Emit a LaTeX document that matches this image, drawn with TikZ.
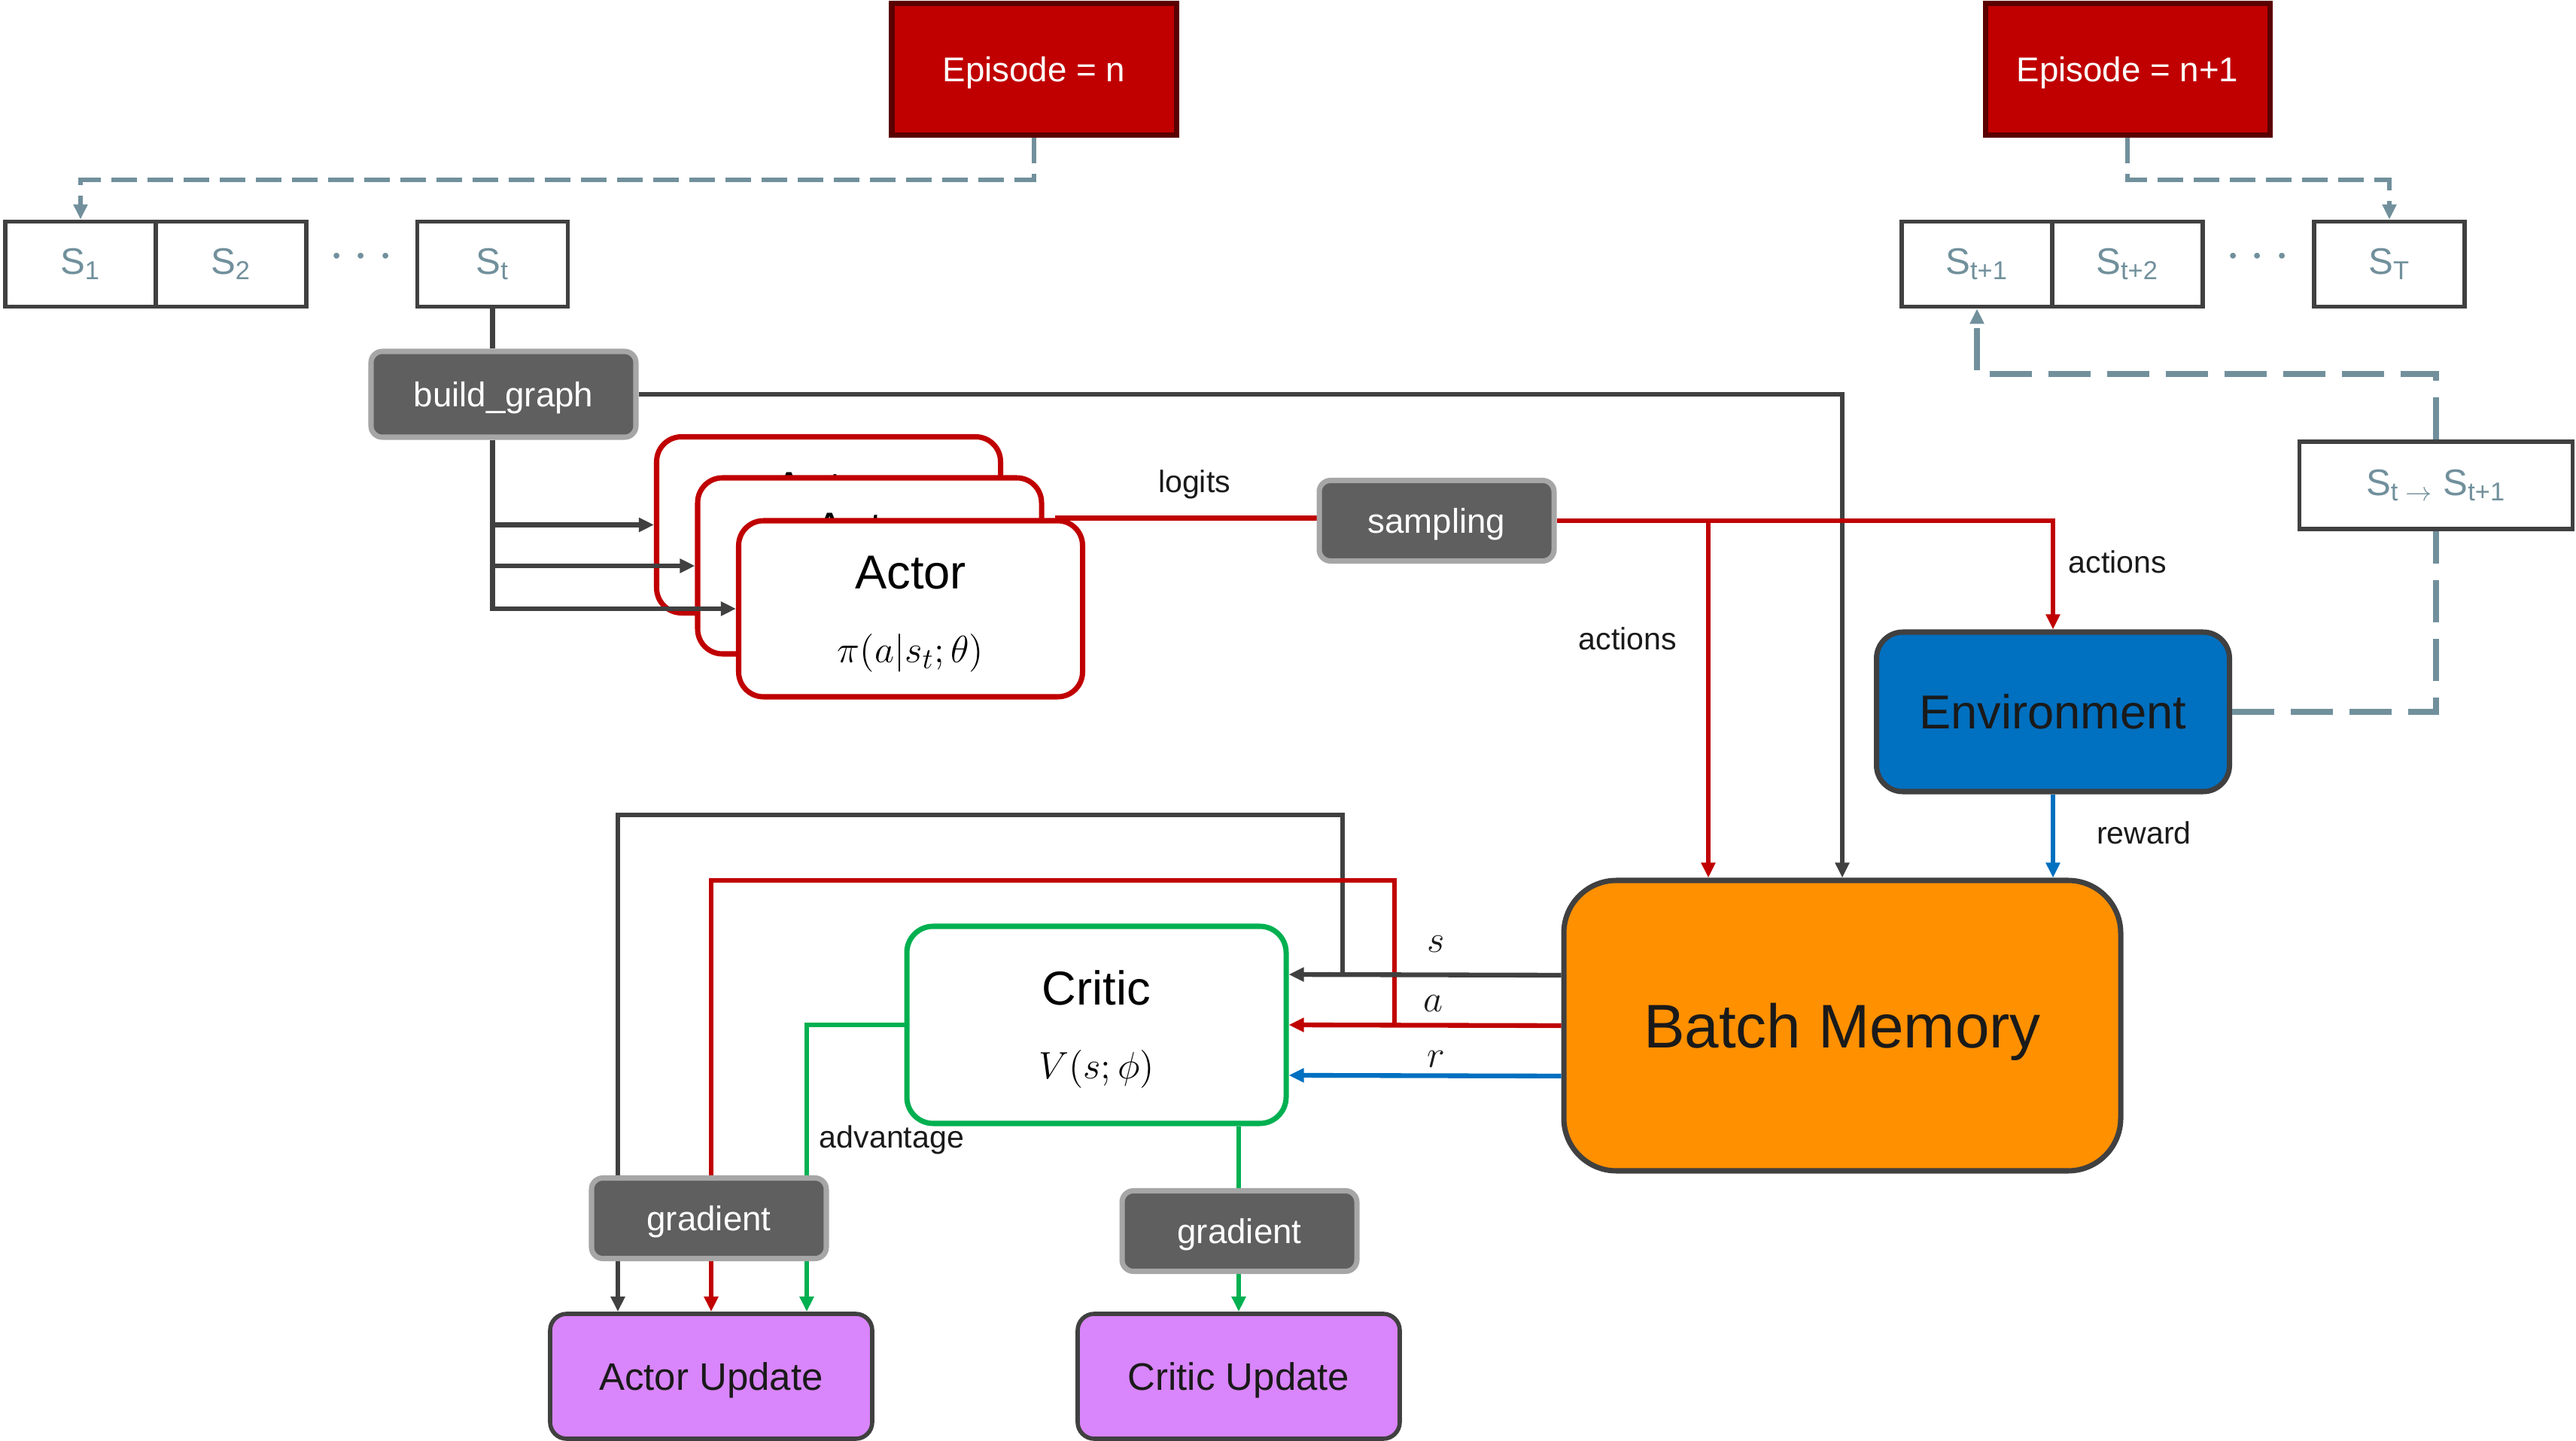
\documentclass[tikz,border=0pt]{standalone}
\usepackage{fontspec}
\setmainfont{Liberation Sans}
\usepackage{tikz}
\usetikzlibrary{arrows.meta, positioning, calc, backgrounds}

\definecolor{epred}{HTML}{C00000}
\definecolor{epborder}{HTML}{5A0000}
\definecolor{boxgray}{HTML}{5F5F5F}
\definecolor{boxrim}{HTML}{A6A6A6}
\definecolor{linegray}{HTML}{404040}
\definecolor{slate}{HTML}{71909C}
\definecolor{envblue}{HTML}{0070C0}
\definecolor{memorange}{HTML}{FF9000}
\definecolor{critgreen}{HTML}{00B050}
\definecolor{updviolet}{HTML}{D985FB}
\definecolor{darktext}{HTML}{1A1A1A}

\begin{document}
\begin{tikzpicture}[
  episode/.style={draw=epborder, fill=epred, line width=2pt, minimum width=3.78cm, minimum height=1.75cm, text depth=0pt, text=white, font=\fontsize{13}{15}\selectfont},
  state/.style={draw=linegray, fill=white, line width=1.6pt, minimum width=2cm, minimum height=1.13cm, text=slate, font=\fontsize{14}{16}\selectfont},
  dots/.style={text=slate, font=\fontsize{22}{22}\selectfont},
  op/.style={draw=boxrim, fill=boxgray, rounded corners=0.15cm, line width=2pt, minimum width=3.12cm, minimum height=1.07cm, text depth=0pt, text=white, font=\fontsize{13}{15}\selectfont},
  actor/.style={draw=epred, fill=white, rounded corners=0.33cm, line width=2pt, minimum width=4.57cm, minimum height=2.34cm, align=center},
  critic/.style={draw=critgreen, fill=white, rounded corners=0.35cm, line width=2pt, minimum width=5.04cm, minimum height=2.62cm, align=center},
  env/.style={draw=linegray, fill=envblue, rounded corners=0.35cm, line width=2pt, minimum width=4.69cm, minimum height=2.12cm, text=darktext, font=\fontsize{18}{20}\selectfont},
  memory/.style={draw=linegray, fill=memorange, rounded corners=0.7cm, line width=2pt, minimum width=7.4cm, minimum height=3.86cm, text depth=0pt, text=darktext, font=\fontsize{23.3}{26}\selectfont},
  update/.style={draw=linegray, fill=updviolet, rounded corners=0.22cm, line width=1.6pt, minimum width=4.28cm, minimum height=1.66cm, text depth=0pt, text=darktext, font=\fontsize{14.5}{17}\selectfont},
  lbl/.style={text=darktext, font=\fontsize{11.7}{14}\selectfont},
  mathlbl/.style={text=darktext, font=\fontsize{15}{17}\selectfont},
  tip/.style={-{Triangle[length=0.2cm, width=0.18cm]}},
  darkline/.style={draw=linegray, line width=1.8pt},
  darkarrow/.style={darkline, tip},
  redline/.style={draw=epred, line width=1.8pt},
  redarrow/.style={redline, tip},
  bluearrow/.style={draw=envblue, line width=1.8pt, tip},
  greenarrow/.style={draw=critgreen, line width=1.6pt, tip},
  dashtop/.style={draw=slate, line width=1.6pt, dash pattern=on 0.34cm off 0.14cm},
  dashlow/.style={draw=slate, line width=2.1pt, dash pattern=on 0.56cm off 0.22cm}
]
  \useasboundingbox (0,0) rectangle (34.23,-19.15);

  \node[episode] (epn) at (13.74,-0.92) {Episode = n};
  \node[episode] (epn1) at (28.27,-0.92) {Episode = n+1};

  \node[state] (s1) at (1.07,-3.51) {S\textsubscript{1}};
  \node[state, right=-1.6pt of s1] (s2) {S\textsubscript{2}};
  \node[dots] (ldots) at (4.8,-3.42) {$\cdots$};
  \node[state] (st) at (6.545,-3.51) {S\textsubscript{t}};

  \node[state] (st1) at (26.27,-3.51) {S\textsubscript{t+1}};
  \node[state, right=-1.6pt of st1] (st2) {S\textsubscript{t+2}};
  \node[dots] (rdots) at (30.0,-3.42) {$\cdots$};
  \node[state] (sT) at (31.75,-3.51) {S\textsubscript{T}};

  \node[state, minimum width=3.63cm, minimum height=1.16cm] (trans) at (32.37,-6.45) {S\textsubscript{t $\rightarrow$} S\textsubscript{t+1}};

  \node[op, minimum width=3.52cm, minimum height=1.14cm] (build) at (6.69,-5.24) {build\_graph};

  \node[actor] (actorA) at (11.01,-6.975) {{\fontsize{18}{20}\selectfont\rule{0pt}{0.58cm}Actor}\\[0.56cm]{\fontsize{15}{17}\selectfont $\pi(a|s_t;\theta)$}};
  \node[actor] (actorB) at (11.555,-7.52) {{\fontsize{18}{20}\selectfont\rule{0pt}{0.58cm}Actor}\\[0.56cm]{\fontsize{15}{17}\selectfont $\pi(a|s_t;\theta)$}};
  \node[actor] (actorC) at (12.10,-8.09) {{\fontsize{18}{20}\selectfont\rule{0pt}{0.58cm}Actor}\\[0.56cm]{\fontsize{15}{17}\selectfont $\pi(a|s_t;\theta)$}};

  \node[op] (sampling) at (19.09,-6.92) {sampling};
  \node[env] (env) at (27.28,-9.46) {Environment};
  \node[memory] (batch) at (24.48,-13.63) {Batch Memory};
  \node[critic] (critic) at (14.57,-13.62) {{\fontsize{18}{20}\selectfont\rule{0pt}{0.58cm}Critic}\\[0.56cm]{\fontsize{15}{17}\selectfont $V(s;\phi)$}};

  \node[op] (grad1) at (9.42,-16.19) {gradient};
  \node[op] (grad2) at (16.47,-16.36) {gradient};
  \node[update] (aup) at (9.45,-18.29) {Actor Update};
  \node[update] (cup) at (16.46,-18.29) {Critic Update};

  \node[lbl] (logits) at (15.87,-6.44) {logits};
  \node[lbl] (actL) at (21.63,-8.49) {actions};
  \node[lbl] (actR) at (28.14,-7.47) {actions};
  \node[lbl] (rew) at (28.49,-11.07) {reward};
  \node[lbl] (adv) at (11.85,-15.15) {advantage};
  \node[mathlbl] (ls) at (19.08,-12.55) {$s$};
  \node[mathlbl] (la) at (19.04,-13.34) {$a$};
  \node[mathlbl] (lr) at (19.08,-14.08) {$r$};

  \coordinate (sBr) at (17.84,-12.96);
  \coordinate (aBr) at (18.53,-13.63);
  \coordinate (aDrop) at ([xshift=-1.78cm]batch.north);

  \draw[dashtop, tip] (epn.south) -- ++(0,-0.56) -| (s1.north);
  \draw[dashtop, tip] (epn1.south) -- ++(0,-0.56) -| (sT.north);
  \draw[dashlow, tip] (trans.north) -- ++(0,0.87) -| (st1.south);
  \draw[dashlow] (env.east) -| (trans.south);

  \draw[darkline] (st.south) -- (st |- build.north);
  \draw[darkarrow] (st |- build.south) |- (actorA.west);
  \draw[darkarrow] (st |- build.south) |- (actorB.west);
  \draw[darkarrow] (st |- build.south) |- (actorC.west);
  \draw[darkarrow] (build.east) -| (batch.north);

  \draw[redarrow] (sampling.east) -| (env.north);
  \draw[redarrow] (sampling.east -| aDrop) -- (aDrop);
  \draw[bluearrow] (env.south) -- (env.south |- batch.north);

  \draw[darkarrow] ([yshift=0.67cm]batch.west) -- ([yshift=0.67cm]critic.east);
  \draw[redarrow] (batch.west) -- (critic.east);
  \draw[bluearrow] ([yshift=-0.67cm]batch.west) -- ([yshift=-0.67cm]critic.east);

  \begin{scope}[on background layer]
    \draw[redline] ([xshift=-0.4cm]actorC.north east) -- (actorC.north east -| sampling.west);
    \draw[darkarrow] (sBr) -- ++(0,2.13) -| ([xshift=-1.24cm]aup.north);
    \draw[redarrow] (aBr) -- ++(0,1.93) -| (aup.north);
    \draw[greenarrow] (critic.west) -| ([xshift=1.27cm]aup.north);
    \draw[greenarrow] (cup.north |- critic.south) -- (cup.north);
  \end{scope}
\end{tikzpicture}
\end{document}
